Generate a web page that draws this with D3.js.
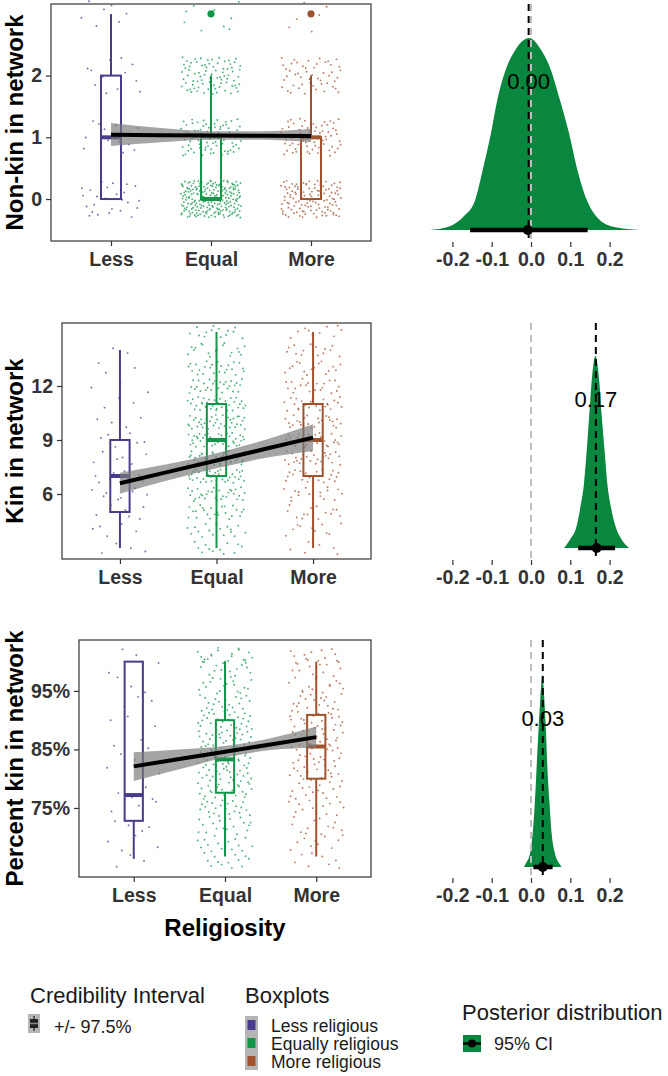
<!DOCTYPE html>
<html><head><meta charset="utf-8">
<script src="https://cdn.jsdelivr.net/npm/d3@7"></script>
<style>
body{margin:0;background:#fff;}
svg{display:block;font-family:"Liberation Sans",Arial,sans-serif;}
</style>
</head><body><svg id="chart" width="668" height="1076"></svg>
<script>
// ---------------- DATA ----------------
const categories = ["Less", "Equal", "More"];
const groupNames = ["Less religious", "Equally religious", "More religious"];
const groupColors = ["#483D8B", "#13964A", "#A0522D"];

// Panel 1: Non-kin in network (integer values, counts per value per group)
const nonkinValues = [0, 1, 2, 3];
const nonkinCountsLess = [25, 15, 12, 8];
const nonkinCountsEqual = [215, 80, 80, 12];
const nonkinCountsMore = [115, 70, 50, 6];
// box stats: [lower whisker, Q1, median, Q3, upper whisker]
const nonkinBoxes = [[0, 0, 1, 2, 3], [0, 0, 0, 1, 2], [0, 0, 1, 1, 2]];
const nonkinOutliers = [[], [3], [3]];
const nonkinTicks = [0, 1, 2];

// Panel 2: Kin in network
const kinValues = [3, 4, 5, 6, 7, 8, 9, 10, 11, 12, 13, 14, 15];
const kinCountsLess = [4, 5, 7, 8, 8, 6, 6, 4, 3, 3, 3, 2, 0];
const kinCountsEqual = [12, 18, 24, 30, 36, 40, 42, 38, 34, 28, 24, 18, 14];
const kinCountsMore = [6, 10, 14, 18, 22, 26, 28, 26, 24, 20, 16, 14, 10];
const kinBoxes = [[3, 5, 7, 9, 14], [3, 7, 9, 11, 15], [3, 7, 9, 11, 15]];
const kinTicks = [6, 9, 12];

// Panel 3: Percent kin in network (binned values, %)
const pctValues = [66, 69, 72, 75, 78, 81, 84, 87, 90, 93, 96, 99, 101];
const pctCountsLess = [3, 4, 4, 4, 4, 2, 3, 2, 3, 3, 3, 2, 2];
const pctCountsEqual = [14, 16, 18, 22, 26, 28, 30, 28, 26, 20, 18, 16, 18];
const pctCountsMore = [8, 10, 12, 14, 16, 18, 20, 22, 22, 18, 14, 12, 12];
const pctBoxes = [[66.3, 72.8, 77.2, 100, 100], [66.7, 77.6, 83.3, 90, 100], [66.7, 80, 85.5, 90.9, 100]];
const pctTicks = [75, 85, 95];

// Linear fit + ribbon (x = religiosity level 1..3)
const fitX = [1, 1.5, 2, 2.5, 3];
const nonkinFit = [1.04, 1.035, 1.03, 1.025, 1.02];
const nonkinLo = [0.86, 0.92, 0.96, 0.96, 0.92];
const nonkinHi = [1.23, 1.15, 1.10, 1.10, 1.14];
const kinFit = [6.6, 7.23, 7.86, 8.5, 9.13];
const kinLo = [6.02, 6.77, 7.43, 8.0, 8.39];
const kinHi = [7.18, 7.67, 8.27, 9.0, 9.87];
const pctFit = [82.1, 83.35, 84.6, 85.85, 87.1];
const pctLo = [79.6, 81.6, 83.6, 84.9, 85.3];
const pctHi = [84.5, 85.0, 85.6, 86.9, 88.9];

// Posterior distributions (x = coefficient, h = relative density)
const post1X = [-0.257, -0.21, -0.172, -0.142, -0.121, -0.102, -0.086, -0.062, -0.041, -0.005, 0.027, 0.048, 0.074, 0.097, 0.116, 0.142, 0.167, 0.209, 0.277];
const post1H = [0, 0.017, 0.069, 0.156, 0.329, 0.502, 0.675, 0.848, 0.934, 1, 0.934, 0.848, 0.675, 0.502, 0.329, 0.156, 0.069, 0.017, 0];
const post2X = [0.084, 0.099, 0.116, 0.126, 0.135, 0.142, 0.148, 0.154, 0.164, 0.174, 0.180, 0.187, 0.194, 0.203, 0.215, 0.231, 0.250];
const post2H = [0, 0.043, 0.113, 0.217, 0.339, 0.513, 0.687, 0.861, 1, 0.861, 0.687, 0.513, 0.339, 0.217, 0.113, 0.043, 0];
const post3X = [-0.0178, -0.0136, -0.0025, 0.0042, 0.0102, 0.0144, 0.0187, 0.0237, 0.029, 0.0339, 0.0382, 0.0416, 0.0466, 0.0526, 0.0611, 0.0721, 0.078];
const post3H = [0, 0.017, 0.070, 0.175, 0.350, 0.524, 0.699, 0.874, 1, 0.874, 0.699, 0.524, 0.350, 0.175, 0.070, 0.017, 0];
const postMeans = [-0.006, 0.165, 0.03];
const postLabels = ["0.00", "0.17", "0.03"];
const ciLow = [-0.155, 0.12, 0.006];
const ciHigh = [0.144, 0.214, 0.055];
const ciPoint = [-0.008, 0.167, 0.03];
const postTicks = [-0.2, -0.1, 0.0, 0.1, 0.2];

// ---------------- DRAWING ----------------
const svg = d3.select("#chart");
const FONT_TICK = "19.5px";
const TICK_COLOR = "#333";

function halton(i, b) { let f = 1, r = 0; while (i > 0) { f /= b; r += f * (i % b); i = Math.floor(i / b); } return r; }

function styleAxis(g) {
  g.select(".domain").remove();
  g.selectAll(".tick line").attr("stroke", TICK_COLOR).attr("stroke-width", 1.2);
  g.selectAll(".tick text").attr("fill", TICK_COLOR).style("font-size", FONT_TICK).style("font-weight", "bold")
    .style("font-family", '"Liberation Sans",Arial,sans-serif');
}

function drawLeft(cfg) {
  const g = svg.append("g");
  const x = d3.scaleLinear().domain([0.4, 3.6]).range([cfg.left, cfg.right]);
  const y = d3.scaleLinear().domain(cfg.yDomain).range([cfg.bottom, cfg.top]);

  // jittered points
  const pts = [];
  cfg.counts.forEach((counts, gi) => {
    let idx = gi * 997 + 11;
    counts.forEach((c, vi) => {
      for (let j = 0; j < c; j++) {
        idx++;
        pts.push({ g: gi, v: cfg.values[vi],
          jx: (halton(idx, 2) - 0.5) * 0.6,
          jy: (halton(idx, 3) - 0.5) * 2 * cfg.jitterY });
      }
    });
  });
  g.append("g").selectAll("circle").data(pts).join("circle")
    .attr("cx", d => x(d.g + 1 + d.jx))
    .attr("cy", d => y(d.v + d.jy))
    .attr("r", 0.95)
    .attr("fill", d => groupColors[d.g])
    .attr("opacity", 0.75);

  // boxplots
  const bw = 0.1;
  cfg.boxes.forEach((b, gi) => {
    const col = groupColors[gi];
    const cx = x(gi + 1);
    const bg = g.append("g");
    bg.append("line").attr("x1", cx).attr("x2", cx).attr("y1", y(b[0])).attr("y2", y(b[1]))
      .attr("stroke", col).attr("stroke-width", 2);
    bg.append("line").attr("x1", cx).attr("x2", cx).attr("y1", y(b[3])).attr("y2", y(b[4]))
      .attr("stroke", col).attr("stroke-width", 2);
    bg.append("rect").attr("x", x(gi + 1 - bw)).attr("width", x(gi + 1 + bw) - x(gi + 1 - bw))
      .attr("y", y(b[3])).attr("height", Math.max(0, y(b[1]) - y(b[3])))
      .attr("fill", "none").attr("stroke", col).attr("stroke-width", 2);
    bg.append("line").attr("x1", x(gi + 1 - bw)).attr("x2", x(gi + 1 + bw)).attr("y1", y(b[2])).attr("y2", y(b[2]))
      .attr("stroke", col).attr("stroke-width", 4);
    if (cfg.outliers) {
      cfg.outliers[gi].forEach(o => {
        bg.append("circle").attr("cx", cx).attr("cy", y(o)).attr("r", 3.6).attr("fill", col);
      });
    }
  });

  // ribbon & fit line
  const area = d3.area().x((d, i) => x(fitX[i])).y0((d, i) => y(cfg.lo[i])).y1((d, i) => y(cfg.hi[i]))
    .curve(d3.curveMonotoneX);
  g.append("path").attr("d", area(fitX)).attr("fill", "#7a7a7a").attr("opacity", 0.68);
  const line = d3.line().x((d, i) => x(fitX[i])).y((d, i) => y(cfg.fit[i]));
  g.append("path").attr("d", line(fitX)).attr("fill", "none").attr("stroke", "#000").attr("stroke-width", 4);

  // frame
  g.append("rect").attr("x", cfg.left).attr("y", cfg.top).attr("width", cfg.right - cfg.left)
    .attr("height", cfg.bottom - cfg.top).attr("fill", "none").attr("stroke", "#444").attr("stroke-width", 1.3);

  // axes
  g.append("g").attr("transform", `translate(${cfg.left},0)`)
    .call(d3.axisLeft(y).tickValues(cfg.yTicks).tickSize(5).tickPadding(4).tickFormat(cfg.yFormat))
    .call(styleAxis);
  g.append("g").attr("transform", `translate(0,${cfg.bottom})`)
    .call(d3.axisBottom(x).tickValues([1, 2, 3]).tickSize(5).tickPadding(6).tickFormat(d => categories[d - 1]))
    .call(styleAxis);

  // y title
  g.append("text").attr("transform", `translate(23,${(cfg.top + cfg.bottom) / 2}) rotate(-90)`)
    .attr("text-anchor", "middle").attr("font-size", "24px").attr("font-weight", "bold").attr("fill", "#000")
    .text(cfg.title);
}

function drawRight(cfg) {
  const g = svg.append("g");
  const x = d3.scaleLinear().domain([-0.3, 0.3]).range([531 - 0.3 * 393, 531 + 0.3 * 393]);
  const h = d3.scaleLinear().domain([0, 1]).range([cfg.baseline, cfg.baseline - 192]);
  const area = d3.area().x((d, i) => x(cfg.px[i])).y0(cfg.baseline).y1((d, i) => h(cfg.ph[i]))
    .curve(d3.curveMonotoneX);
  g.append("path").attr("d", area(cfg.px)).attr("fill", "#0A873F");
  // zero reference and mean lines
  g.append("line").attr("x1", x(0)).attr("x2", x(0)).attr("y1", cfg.top).attr("y2", cfg.bottom)
    .attr("stroke", "#bdbdbd").attr("stroke-width", 2).attr("stroke-dasharray", "7,5");
  g.append("line").attr("x1", x(cfg.mean)).attr("x2", x(cfg.mean)).attr("y1", cfg.top).attr("y2", cfg.baseline + 8)
    .attr("stroke", "#000").attr("stroke-width", 2).attr("stroke-dasharray", "7,5");
  g.append("text").attr("x", x(cfg.mean)).attr("y", cfg.baseline - 149).attr("dy", "0.35em")
    .attr("text-anchor", "middle").attr("font-size", "22px").attr("fill", "#000").text(cfg.label);
  // CI
  g.append("line").attr("x1", x(cfg.lo)).attr("x2", x(cfg.hi)).attr("y1", cfg.baseline).attr("y2", cfg.baseline)
    .attr("stroke", "#000").attr("stroke-width", 4.5);
  g.append("circle").attr("cx", x(cfg.point)).attr("cy", cfg.baseline).attr("r", 5).attr("fill", "#000");
  // axis
  g.append("g").attr("transform", `translate(0,${cfg.bottom + 1})`)
    .call(d3.axisBottom(x).tickValues(postTicks).tickSize(5).tickPadding(5).tickFormat(d => d.toFixed(1)))
    .call(styleAxis);
}

const leftCfgs = [
  { left: 51, right: 371, top: 4, bottom: 241, yDomain: [-0.68, 3.16], values: nonkinValues,
    counts: [nonkinCountsLess, nonkinCountsEqual, nonkinCountsMore], jitterY: 0.3,
    boxes: nonkinBoxes, outliers: nonkinOutliers, yTicks: nonkinTicks, yFormat: d3.format("d"),
    fit: nonkinFit, lo: nonkinLo, hi: nonkinHi, title: "Non-kin in network" },
  { left: 62, right: 371, top: 323, bottom: 559, yDomain: [2.39, 15.5], values: kinValues,
    counts: [kinCountsLess, kinCountsEqual, kinCountsMore], jitterY: 0.4,
    boxes: kinBoxes, outliers: null, yTicks: kinTicks, yFormat: d3.format("d"),
    fit: kinFit, lo: kinLo, hi: kinHi, title: "Kin in network" },
  { left: 79, right: 371, top: 640, bottom: 877, yDomain: [63.2, 103.7], values: pctValues,
    counts: [pctCountsLess, pctCountsEqual, pctCountsMore], jitterY: 1.5,
    boxes: pctBoxes, outliers: null, yTicks: pctTicks, yFormat: d => d + "%",
    fit: pctFit, lo: pctLo, hi: pctHi, title: "Percent kin in network" }
];
leftCfgs.forEach(drawLeft);

const postX = [post1X, post2X, post3X];
const postH = [post1H, post2H, post3H];
[[4, 241, 230], [323, 559, 548], [640, 877, 867]].forEach((p, i) => {
  drawRight({ top: p[0], bottom: p[1], baseline: p[2], px: postX[i], ph: postH[i],
    mean: postMeans[i], label: postLabels[i], lo: ciLow[i], hi: ciHigh[i], point: ciPoint[i] });
});

// x title
svg.append("text").attr("x", 225).attr("y", 936).attr("text-anchor", "middle")
  .attr("font-size", "24px").attr("font-weight", "bold").attr("fill", "#000").text("Religiosity");

// ---------------- LEGENDS ----------------
const lg = svg.append("g").attr("fill", "#1a1a1a");
// Credibility interval
lg.append("text").attr("x", 30).attr("y", 1003).attr("font-size", "22px").text("Credibility Interval");
lg.append("rect").attr("x", 28).attr("y", 1014).attr("width", 12).attr("height", 19).attr("fill", "#b5b5b5");
lg.append("line").attr("x1", 34).attr("x2", 34).attr("y1", 1016).attr("y2", 1031).attr("stroke", "#222").attr("stroke-width", 1.2);
lg.append("rect").attr("x", 30).attr("y", 1019).attr("width", 8).attr("height", 9).attr("fill", "#222");
lg.append("line").attr("x1", 30).attr("x2", 38).attr("y1", 1023.5).attr("y2", 1023.5).attr("stroke", "#888").attr("stroke-width", 1.5);
lg.append("text").attr("x", 54).attr("y", 1033).attr("font-size", "18px").text("+/- 97.5%");

// Boxplots
lg.append("text").attr("x", 245).attr("y", 1003).attr("font-size", "22px").text("Boxplots");
lg.append("rect").attr("x", 245).attr("y", 1016).attr("width", 13).attr("height", 54).attr("fill", "#b5b5b5");
groupNames.forEach((n, i) => {
  const cy = 1025 + i * 18;
  lg.append("rect").attr("x", 247.5).attr("y", cy - 5).attr("width", 8).attr("height", 10).attr("fill", groupColors[i]);
  lg.append("text").attr("x", 271).attr("y", cy + 6.5).attr("font-size", "17.5px").text(n);
});

// Posterior distribution
lg.append("text").attr("x", 462).attr("y", 1020).attr("font-size", "22px").text("Posterior distribution");
lg.append("rect").attr("x", 463).attr("y", 1035).attr("width", 18).attr("height", 17).attr("fill", "#0A873F");
lg.append("line").attr("x1", 463).attr("x2", 481).attr("y1", 1043.5).attr("y2", 1043.5).attr("stroke", "#000").attr("stroke-width", 2.5);
lg.append("circle").attr("cx", 472).attr("cy", 1043.5).attr("r", 4).attr("fill", "#000");
lg.append("text").attr("x", 494).attr("y", 1050).attr("font-size", "18px").text("95% CI");
</script>
</body></html>
